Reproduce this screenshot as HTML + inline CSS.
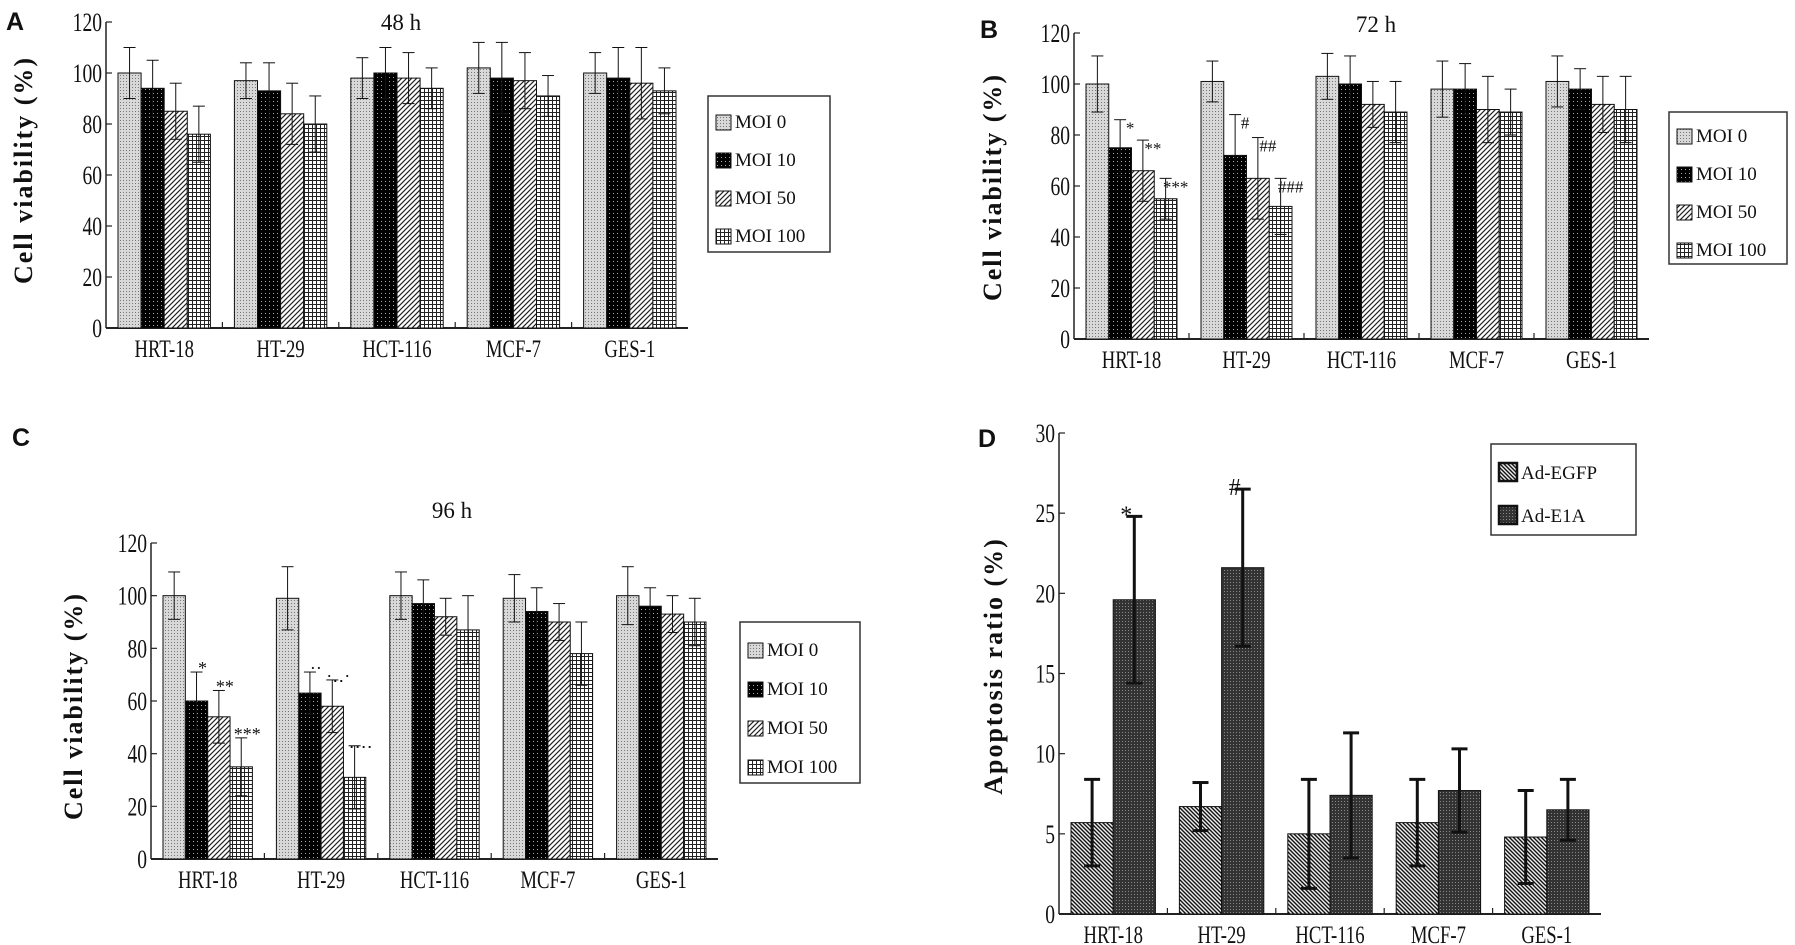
<!DOCTYPE html>
<html><head><meta charset="utf-8">
<style>
html,body{margin:0;padding:0;background:#fff;overflow:hidden;}
svg{display:block;}
text{font-family:"Liberation Serif",serif;fill:#111;}
.tick{font-size:23px;}
.cat{font-size:22px;}
.ylab{font-size:26px;font-weight:bold;letter-spacing:2px;}
.plet{font-family:"Liberation Sans",sans-serif;font-weight:bold;font-size:25px;}
.leg{font-size:19px;}
</style></head>
<body>
<svg id="fig" width="1795" height="945" viewBox="0 0 1795 945">
<defs>
<pattern id="p0" width="3" height="3" patternUnits="userSpaceOnUse"><rect width="3" height="3" fill="#d8d8d8"/><rect width="1" height="1" fill="#777"/></pattern>
<pattern id="p1" width="4" height="4" patternUnits="userSpaceOnUse"><rect width="4" height="4" fill="#000"/><rect x="1" y="1" width="1" height="1" fill="#aaa"/></pattern>
<pattern id="p2" width="5" height="5" patternUnits="userSpaceOnUse"><rect width="5" height="5" fill="#fff"/><path d="M-1,6 L6,-1 M-1,1 L1,-1 M4,6 L6,4" stroke="#222" stroke-width="1.2"/></pattern>
<pattern id="p3" width="4" height="4" patternUnits="userSpaceOnUse"><rect width="4" height="4" fill="#fff"/><path d="M0,0.5 H4 M0.5,0 V4" stroke="#222" stroke-width="1"/></pattern>
<pattern id="pd0" width="4" height="4" patternUnits="userSpaceOnUse"><rect width="4" height="4" fill="#eee"/><path d="M-1,-1 L5,5 M-1,3 L1,5 M3,-1 L5,1" stroke="#111" stroke-width="1.4"/></pattern>
<pattern id="pd1" width="3" height="3" patternUnits="userSpaceOnUse"><rect width="3" height="3" fill="#333"/><rect width="1" height="1" fill="#888"/></pattern>
</defs>
<g id="root"></g>
</svg>
<script>
// ---- data ----
const categories = ["HRT-18","HT-29","HCT-116","MCF-7","GES-1"];
const catLabelsD = ["HRT-18","HT-29","HCT-116","MCF-7","GES-1"];
const seriesMOI = ["MOI 0","MOI 10","MOI 50","MOI 100"];
const ticksViability = [0,20,40,60,80,100,120];
const ticksApoptosis = [0,5,10,15,20,25,30];
// Panel A 48 h
const a_moi0 = [100,97,98,102,100];
const a_moi10 = [94,93,100,98,98];
const a_moi50 = [85,84,98,97,96];
const a_moi100 = [76,80,94,91,93];
const a_err0 = [10,7,8,10,8];
const a_err10 = [11,11,10,14,12];
const a_err50 = [11,12,10,11,14];
const a_err100 = [11,11,8,8,9];
// Panel B 72 h
const b_moi0 = [100,101,103,98,101];
const b_moi10 = [75,72,100,98,98];
const b_moi50 = [66,63,92,90,92];
const b_moi100 = [55,52,89,89,90];
const b_err0 = [11,8,9,11,10];
const b_err10 = [11,16,11,10,8];
const b_err50 = [12,16,9,13,11];
const b_err100 = [8,11,12,9,13];
// Panel C 96 h
const c_moi0 = [100,99,100,99,100];
const c_moi10 = [60,63,97,94,96];
const c_moi50 = [54,58,92,90,93];
const c_moi100 = [35,31,87,78,90];
const c_err0 = [9,12,9,9,11];
const c_err10 = [11,8,9,9,7];
const c_err50 = [10,10,7,7,7];
const c_err100 = [11,12,13,12,9];
// Panel D apoptosis
const d_egfp = [5.7,6.7,5.0,5.7,4.8];
const d_e1a = [19.6,21.6,7.4,7.7,6.5];
const d_errEgfp = [2.7,1.5,3.4,2.7,2.9];
const d_errE1a = [5.2,4.9,3.9,2.6,1.9];

const NS="http://www.w3.org/2000/svg";
const root=document.getElementById('root');
function mk(tag,attrs,parent){const e=document.createElementNS(NS,tag);for(const k in attrs)e.setAttribute(k,attrs[k]);(parent||root).appendChild(e);return e;}
function txt(s,attrs,parent){const e=mk('text',attrs,parent);e.textContent=s;return e;}
function sc(x,y,sx,sy){return `translate(${x},${y}) scale(${sx},${sy}) translate(${-x},${-y})`;}

function panel(cfg){
  const g=mk('g',{});
  
  
  const {x0,x1,y0,yTop,max}=cfg;
  const ys=v=>y0-(v/max)*(y0-yTop);
  const ya=mk('line',{x1:x0,y1:y0,x2:x0,y2:yTop,stroke:'#222','stroke-width':1.5},g);
  
  const xa=mk('line',{x1:x0,y1:y0,x2:x1,y2:y0,stroke:'#222','stroke-width':2},g);
  
  cfg.ticks.forEach(t=>{
    const y=ys(t);
    mk('line',{x1:x0,y1:y,x2:x0+6,y2:y,stroke:'#222','stroke-width':1.2},g);
    const tl=txt(String(t),{x:x0-4,y:y+9,'text-anchor':'end',class:'tick',transform:sc(x0-4,y+9,0.85,1.15)},g);
    
  });
  const n=categories.length, gw=(x1-x0)/n;
  for(let i=1;i<n;i++) mk('line',{x1:x0+gw*i,y1:y0,x2:x0+gw*i,y2:y0-6,stroke:'#222','stroke-width':1.2},g);
  const ns=cfg.series.length;
  categories.forEach((c,i)=>{
    const gx=x0+gw*i;
    const start=gx+cfg.pad, bw=(gw-2*cfg.pad)/ns;
    cfg.series.forEach((s,j)=>{
      const v=s[i], e=cfg.errs[j][i];
      const bx=start+bw*j;
      const r=mk('rect',{x:bx,y:ys(v),width:bw,height:y0-ys(v),fill:`url(#${cfg.fills[j]})`,stroke:'#111','stroke-width':1},g);
      
      const cx=bx+bw/2, sw=cfg.errW;
      mk('line',{x1:cx,y1:ys(v-e),x2:cx,y2:ys(v+e),stroke:'#111','stroke-width':sw},g);
      mk('line',{x1:cx-cfg.cap,y1:ys(v+e),x2:cx+cfg.cap,y2:ys(v+e),stroke:'#111','stroke-width':sw},g);
      mk('line',{x1:cx-cfg.cap,y1:ys(v-e),x2:cx+cfg.cap,y2:ys(v-e),stroke:'#111','stroke-width':sw},g);
      if(cfg.marks && cfg.marks[i] && cfg.marks[i][j]){
        const m=txt(cfg.marks[i][j],{x:cx+(cfg.markDx||0),y:ys(v+e)+(cfg.markDy||8),'font-size':cfg.markSize||18,'text-anchor':'middle'},g);
        
      }
    });
    const lx=gx+gw/2, ly=y0+29;
    const cl=txt(cfg.cats[i],{x:lx,y:ly,'text-anchor':'middle',class:'cat',transform:sc(lx,ly,0.85,1.15)},g);
    
  });
  const yl=txt(cfg.ylabel,{x:0,y:0,'text-anchor':'middle',class:'ylab',transform:`translate(${cfg.ylx},${cfg.yly}) rotate(-90)`},g);
  
  if(cfg.title){const t=txt(cfg.title,{x:cfg.tx,y:cfg.ty,'text-anchor':'middle','font-size':23},g);
    }
  const pl=txt(cfg.letter,{x:cfg.lx,y:cfg.ly,class:'plet'},g);
  
  const L=cfg.legend;
  const lb=mk('rect',{x:L.x,y:L.y,width:L.w,height:L.h,fill:'#fff',stroke:'#333','stroke-width':1.5},g);
  
  cfg.legNames.forEach((nm,j)=>{
    const yy=L.y+L.first+j*L.step;
    const sq=mk('rect',{x:L.x+8,y:yy-L.sq+2,width:L.sq,height:L.sq,fill:`url(#${cfg.fills[j]})`,stroke:'#111','stroke-width':L.sqStroke},g);
    
    const lt=txt(nm,{x:L.x+12+L.sq,y:yy,class:'leg','font-size':L.fs},g);
    
  });
}

panel({name:'panel-a-48h',x0:106,x1:688,y0:328,yTop:22,max:120,ticks:ticksViability,pad:12,
  series:[a_moi0,a_moi10,a_moi50,a_moi100],errs:[a_err0,a_err10,a_err50,a_err100],
  fills:['p0','p1','p2','p3'],errW:1,cap:6,cats:categories,ylabel:'Cell viability (%)',ylx:32,yly:170,
  title:'48 h',tx:401,ty:30,letter:'A',lx:6,ly:30,
  legend:{x:708,y:96,w:122,h:156,first:32,step:38,sq:15,fs:20,sqStroke:1},legNames:seriesMOI});

panel({name:'panel-b-72h',x0:1074,x1:1649,y0:339,yTop:33,max:120,ticks:ticksViability,pad:12,
  series:[b_moi0,b_moi10,b_moi50,b_moi100],errs:[b_err0,b_err10,b_err50,b_err100],
  fills:['p0','p1','p2','p3'],errW:1,cap:6,cats:categories,ylabel:'Cell viability (%)',ylx:1001,yly:187,
  title:'72  h',tx:1376,ty:32,letter:'B',lx:980,ly:38,
  marks:[[null,'*','**','***'],[null,'#','##','###']],markDx:10,markDy:14,markSize:17,
  legend:{x:1669,y:112,w:118,h:152,first:30,step:38,sq:15,fs:20,sqStroke:1},legNames:seriesMOI});

panel({name:'panel-c-96h',x0:151,x1:718,y0:859,yTop:543,max:120,ticks:ticksViability,pad:12,
  series:[c_moi0,c_moi10,c_moi50,c_moi100],errs:[c_err0,c_err10,c_err50,c_err100],
  fills:['p0','p1','p2','p3'],errW:1,cap:6,cats:categories,ylabel:'Cell viability (%)',ylx:82,yly:706,
  title:'96 h',tx:452,ty:518,letter:'C',lx:12,ly:446,
  marks:[[null,'*','**','***'],[null,'··','·‥·','‥‥']],markDx:6,markDy:2,markSize:18,
  legend:{x:740,y:622,w:120,h:161,first:34,step:39,sq:15,fs:20,sqStroke:1},legNames:seriesMOI});

panel({name:'panel-d-apoptosis',x0:1059,x1:1601,y0:914,yTop:433,max:30,ticks:ticksApoptosis,pad:12,
  series:[d_egfp,d_e1a],errs:[d_errEgfp,d_errE1a],
  fills:['pd0','pd1'],errW:3,cap:8,cats:catLabelsD,ylabel:'Apoptosis ratio (%)',ylx:1002,yly:666,
  title:null,letter:'D',lx:978,ly:447,
  marks:[[null,'*'],[null,'#']],markDx:-8,markDy:6,markSize:24,
  legend:{x:1491,y:444,w:145,h:91,first:35,step:43,sq:18,fs:22,sqStroke:2.5},legNames:['Ad-EGFP','Ad-E1A']});
</script>
</body></html>
